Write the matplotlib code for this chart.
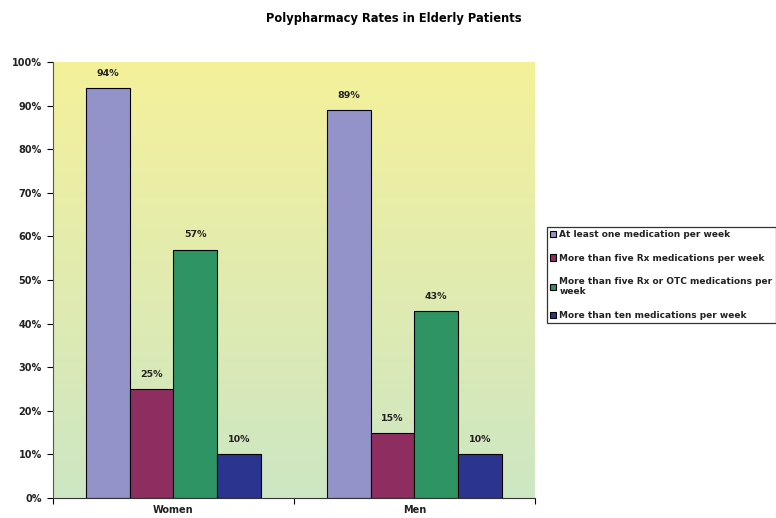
import matplotlib
matplotlib.use("Agg")
import matplotlib.pyplot as plt
import numpy as np
from matplotlib.colors import LinearSegmentedColormap

categories = ["Women", "Men"]
series_names = [
    "At least one medication per week",
    "More than five Rx medications per week",
    "More than five Rx or OTC medications per\nweek",
    "More than ten medications per week",
]
values = {
    "At least one medication per week": [94, 89],
    "More than five Rx medications per week": [25, 15],
    "More than five Rx or OTC medications per\nweek": [57, 43],
    "More than ten medications per week": [10, 10],
}
colors = ["#9393C9", "#8E2E60", "#2E9464", "#2B3590"]
yticks = [0, 10, 20, 30, 40, 50, 60, 70, 80, 90, 100]

fig = plt.figure(figsize=(7.76, 5.18), dpi=100)
ax = fig.add_axes([0.0683, 0.0386, 0.621, 0.8416])

# gradient background
grad = np.linspace(0, 1, 256).reshape(-1, 1)
cmap = LinearSegmentedColormap.from_list("bg", ["#CDE6C4", "#F5F19A"])
ax.imshow(grad, aspect="auto", cmap=cmap, origin="lower",
          extent=[0, 1, 0, 1], transform=ax.transAxes, zorder=0)

x = np.arange(len(categories))
bw = 0.181
n = len(series_names)
for i, name in enumerate(series_names):
    offs = (i - (n - 1) / 2) * bw
    vals = values[name]
    ax.bar(x + offs, vals, bw, color=colors[i], edgecolor="black",
           linewidth=0.8, label=name, zorder=2)
    for xi, v in zip(x + offs, vals):
        ax.text(xi, v + 2.3, f"{v}%", ha="center", va="bottom",
                fontsize=6.8, fontweight="bold", color="#222222", zorder=3)

ax.set_xlim(-0.5, 1.5)
ax.set_ylim(0, 100)
ax.set_yticks(yticks)
ax.set_yticklabels([f"{t}%" for t in yticks], fontsize=7, fontweight="bold", color="#222222")
ax.set_xticks([-0.5, 0.5, 1.5], minor=False)
ax.set_xticklabels([])
ax.set_xticks(x, minor=True)
ax.set_xticklabels(categories, minor=True, fontsize=7, fontweight="bold", color="#222222")
ax.tick_params(axis="x", which="minor", length=0, pad=5)
ax.tick_params(axis="x", which="major", length=4, direction="out")
ax.tick_params(axis="y", length=4, direction="out", pad=4)
for s in ["top", "right"]:
    ax.spines[s].set_visible(False)
ax.spines["left"].set_color("#555555")
ax.spines["bottom"].set_color("#333333")

fig.text(0.508, 0.965, "Polypharmacy Rates in Elderly Patients", ha="center",
         va="center", fontsize=8.3, fontweight="bold")

leg = ax.legend(loc="upper left", bbox_to_anchor=(0.6985, 0.5714),
                bbox_transform=fig.transFigure, fontsize=6.5, frameon=True,
                fancybox=False, edgecolor="black", handlelength=0.7,
                handleheight=0.7, handletextpad=0.3, labelspacing=1.6,
                borderpad=0.4)
leg.get_frame().set_linewidth(0.9)
for t in leg.get_texts():
    t.set_fontweight("bold")
    t.set_color("#222222")

fig.savefig("out.png", dpi=100)
